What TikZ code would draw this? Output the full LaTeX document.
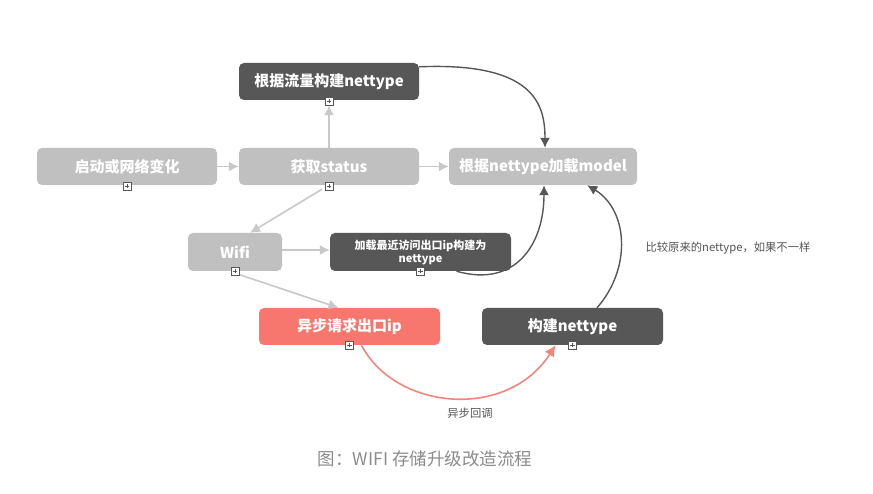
\documentclass[tikz,border=0pt]{standalone}
\usepackage{fontspec}
\setmainfont{Noto Sans CJK SC}
\usetikzlibrary{arrows.meta}
\definecolor{lightg}{HTML}{C0C0C0}
\definecolor{lineg}{HTML}{C8C8C8}
\definecolor{darkg}{HTML}{575757}
\definecolor{salmon}{HTML}{F7776F}
\definecolor{salmonline}{HTML}{F4857C}
\definecolor{capg}{HTML}{8C8C8C}
\definecolor{lblg}{HTML}{555555}
\tikzset{
  box/.style={rounded corners=5pt, minimum height=37pt, text=white, inner sep=0pt,
    font=\bfseries\fontsize{15}{17}\selectfont},
  lightbox/.style={box, fill=lightg},
  darkbox/.style={box, fill=darkg},
  redbox/.style={box, fill=salmon},
  larrow/.style={draw=lineg, line width=1.6pt, -{Latex[length=10pt,width=10pt]}},
  darrow/.style={draw=darkg, line width=1.4pt, -{Latex[length=10pt,width=10pt]}},
  rarrow/.style={draw=salmonline, line width=1.6pt, -{Latex[length=11pt,width=11pt]}},
  lbl/.style={text=lblg, font=\fontsize{11.3}{13}\selectfont, inner sep=0pt},
}
\begin{document}
\begin{tikzpicture}[x=1pt,y=-1pt]
\useasboundingbox[fill=white] (0,0) rectangle (873,494);

\node[darkbox, minimum width=180pt] (flow) at (329,81.5) {根据流量构建nettype};
\node[lightbox, minimum width=180pt] (start) at (127,166.5) {启动或网络变化};
\node[lightbox, minimum width=180pt] (status) at (329,166.5) {获取status};
\node[lightbox, minimum width=188pt] (model) at (543,166.5) {根据nettype加载model};
\node[lightbox, minimum width=94pt, minimum height=38pt] (wifi) at (235,252) {Wifi};
\node[darkbox, minimum width=181pt, minimum height=38pt, align=center,
      font=\bfseries\fontsize{11}{13}\selectfont] (load) at (420.5,252) {加载最近访问出口ip构建为\\nettype};
\node[redbox, minimum width=181pt] (async) at (349.5,326.5) {异步请求出口ip};
\node[darkbox, minimum width=181pt] (build) at (572.5,326.5) {构建nettype};

% light connectors
\draw[larrow] (start.east) -- (status.west);
\draw[larrow] (status.north) -- ([yshift=-5pt]flow.south);
\draw[larrow] (status.east) -- (model.west);
\draw[larrow] ([xshift=-7pt,yshift=-4pt]status.south) -- ([xshift=15pt]wifi.north);
\draw[larrow] ([yshift=2pt]wifi.east) -- ([yshift=2pt]load.west);
\draw[larrow] ([xshift=3pt,yshift=-3pt]wifi.south) -- ([xshift=-11pt]async.north);

% dark connectors
\draw[darrow] ([yshift=-4pt]flow.north east) .. controls (535,62) and (545,105) .. ([xshift=2pt]model.north);
\draw[darrow] ([xshift=36pt]load.south) .. controls (515,288) and (544,245) .. ([xshift=1pt]model.south);
\draw[darrow] ([xshift=24.5pt]build.north) .. controls (632,268) and (628,210) .. ([xshift=-50pt]model.south east);
\node[lbl] (cmp) at (728,248) {比较原来的nettype，如果不一样};

% salmon connector
\draw[rarrow] ([xshift=12pt]async.south) .. controls (395,410) and (507,421) .. ([xshift=-17pt]build.south);
\node[lbl] (cb) at (470,413) {异步回调};

% expand icons
\foreach \px/\py in {127/186,329/101,329/186,235/271,420.5/271,349.5/345,572.5/345}{
  \draw[fill=white, draw=darkg, line width=0.6pt] (\px-4,\py-4) rectangle (\px+4,\py+4);
  \draw[darkg, line width=0.6pt] (\px-2.2,\py) -- (\px+2.2,\py) (\px,\py-2.2) -- (\px,\py+2.2);
}

\node[text=capg, font=\fontsize{17.5}{20}\selectfont, inner sep=0pt] (cap) at (425,459) {图：WIFI 存储升级改造流程};
\end{tikzpicture}
\end{document}
